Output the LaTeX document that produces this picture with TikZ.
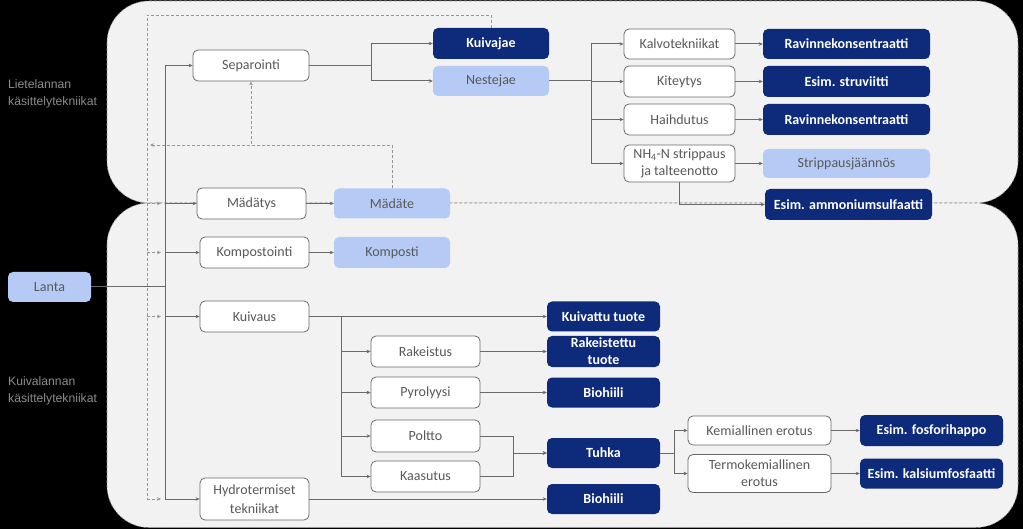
\documentclass[tikz,border=0pt]{standalone}
\usepackage{fontspec}
\setmainfont{Carlito}
\newfontfamily\sidefont{Liberation Sans}
\usetikzlibrary{arrows.meta}

\definecolor{panelgray}{RGB}{242,242,242}
\definecolor{navy}{RGB}{14,42,122}
\definecolor{lightblue}{RGB}{182,202,246}
\definecolor{txtgray}{RGB}{89,89,89}
\definecolor{linegray}{RGB}{105,105,105}
\definecolor{dashgray}{RGB}{150,150,150}
\definecolor{sidegray}{RGB}{140,140,140}

\tikzset{
	box/.style={rounded corners=5pt, inner sep=0pt, align=center, text=txtgray,
		font=\fontsize{14}{17}\selectfont},
	proc/.style={box, draw=linegray, line width=0.8pt, fill=white},
	res/.style={box, fill=navy, text=white, font=\fontsize{14}{17}\selectfont\bfseries},
	mid/.style={box, fill=lightblue},
	conn/.style={draw=linegray, line width=1pt},
	arr/.style={conn, -{Stealth[length=4pt,width=3.5pt]}},
	darr/.style={draw=dashgray, line width=0.8pt, dash pattern=on 3pt off 2pt,
		-{Stealth[length=4pt,width=3.5pt]}},
	dconn/.style={draw=dashgray, line width=0.8pt, dash pattern=on 3pt off 2pt},
	panel/.style={fill=panelgray, draw=dashgray, line width=0.6pt,
		dash pattern=on 3pt off 2pt, rounded corners=42pt},
	side/.style={anchor=west, align=left, text=sidegray, inner sep=0pt,
		font=\sidefont\fontsize{12.2}{17}\selectfont}
}

\begin{document}
\begin{tikzpicture}[x=1pt,y=-1pt]

	%Background
	\fill[black] (0,0) rectangle (1023,529);
	\useasboundingbox (0,0) rectangle (1023,529);

	%Panels
	\draw[panel] (107,1) rectangle (1018,203);
	\draw[panel] (107,203) rectangle (1018,527.5);
	\node[side] (liete) at (8,94) {Lietelannan\\käsittelytekniikat};
	\node[side] (kuiva) at (8,391) {Kuivalannan\\käsittelytekniikat};

	%Input
	\node[mid, minimum width=83pt, minimum height=30pt] (lanta) at (49.5,287) {Lanta};

	%Lietelanta
	\node[proc, minimum width=116pt, minimum height=31pt] (sep) at (251,65.5) {Separointi};
	\node[res, minimum width=116pt, minimum height=31pt] (kuivajae) at (491,43.5) {Kuivajae};
	\node[mid, minimum width=116pt, minimum height=30pt] (nestejae) at (491,81) {Nestejae};

	\node[proc, minimum width=111pt, minimum height=30pt] (kalvo) at (679.5,44) {Kalvotekniikat};
	\node[proc, minimum width=111pt, minimum height=31pt] (kite) at (679.5,81.5) {Kiteytys};
	\node[proc, minimum width=111pt, minimum height=31pt] (haih) at (679.5,119.5) {Haihdutus};
	\node[proc, minimum width=111pt, minimum height=37pt] (nh) at (679.5,163.5)
		{NH\textsubscript{4}-N strippaus\\ja talteenotto};

	\node[res, minimum width=167pt, minimum height=30pt] (rav1) at (846.5,44) {Ravinnekonsentraatti};
	\node[res, minimum width=167pt, minimum height=31pt] (struv) at (846.5,81.5) {Esim. struviitti};
	\node[res, minimum width=167pt, minimum height=31pt] (rav2) at (846.5,119.5) {Ravinnekonsentraatti};
	\node[mid, minimum width=167pt, minimum height=29pt] (stripj) at (846.5,163.5) {Strippausjäännös};
	\node[res, minimum width=167pt, minimum height=31pt] (amsulf) at (848.5,204.5) {Esim. ammoniumsulfaatti};

	%Mädätys ja kompostointi
	\node[proc, minimum width=109pt, minimum height=31pt] (mad) at (251.5,203.5) {Mädätys};
	\node[mid, minimum width=116pt, minimum height=30pt] (madate) at (392,203.5) {Mädäte};
	\node[proc, minimum width=109pt, minimum height=31pt] (komp) at (254.5,252.5) {Kompostointi};
	\node[mid, minimum width=116pt, minimum height=31pt] (kompo) at (392,252.5) {Komposti};

	%Kuivalanta
	\node[proc, minimum width=109pt, minimum height=31pt] (kuiv) at (254.5,316.5) {Kuivaus};
	\node[res, minimum width=113pt, minimum height=30pt] (kuivt) at (603.5,316.5) {Kuivattu tuote};
	\node[proc, minimum width=109pt, minimum height=31pt] (rak) at (425.5,351.5) {Rakeistus};
	\node[res, minimum width=113pt, minimum height=31pt] (rakt) at (603.5,351.5) {Rakeistettu\\tuote};
	\node[proc, minimum width=109pt, minimum height=31pt] (pyro) at (425.5,392.5) {Pyrolyysi};
	\node[res, minimum width=113pt, minimum height=30pt] (bio1) at (603.5,392.5) {Biohiili};
	\node[proc, minimum width=109pt, minimum height=32pt] (polt) at (425.5,436) {Poltto};
	\node[proc, minimum width=109pt, minimum height=31pt] (kaas) at (425.5,476.5) {Kaasutus};
	\node[res, minimum width=113pt, minimum height=30pt] (tuhka) at (603.5,453) {Tuhka};
	\node[proc, minimum width=109pt, minimum height=42pt] (hyd) at (254.5,499) {Hydrotermiset\\[2pt]tekniikat};
	\node[res, minimum width=113pt, minimum height=30pt] (bio2) at (603.5,499) {Biohiili};

	\node[proc, minimum width=143pt, minimum height=29pt] (kem) at (759.5,430.5) {Kemiallinen erotus};
	\node[proc, minimum width=143pt, minimum height=38pt] (termo) at (759.5,473.5) {Termokemiallinen\\erotus};
	\node[res, minimum width=143pt, minimum height=31pt] (fosf) at (931.5,430.5) {Esim. fosforihappo};
	\node[res, minimum width=143pt, minimum height=30pt] (kals) at (931.5,473.5) {Esim. kalsiumfosfaatti};

	%Solid connectors
	\coordinate (trunk) at (165,0);
	\draw[conn] (lanta.east) -- (lanta.east -| trunk);
	\draw[conn] (trunk |- sep) -- (trunk |- hyd);
	\foreach \n in {sep,mad,komp,kuiv,hyd}
		\draw[arr] (trunk |- \n) -- (\n.west);

	\draw[arr] (sep.east) -- ++(62,0) |- (kuivajae.west);
	\draw[arr] (sep.east) -- ++(62,0) |- (nestejae.west);

	\foreach \n in {kalvo,kite,haih,nh}
		\draw[arr] (nestejae.east) -- ++(42,0) |- (\n.west);
	\draw[arr] (kalvo) -- (rav1);
	\draw[arr] (kite) -- (struv);
	\draw[arr] (haih) -- (rav2);
	\draw[arr] (nh) -- (stripj);
	\draw[arr] (nh.south) |- (amsulf.west);

	\draw[arr] (mad) -- (madate);
	\draw[arr] (komp) -- (kompo);

	\draw[arr] (kuiv) -- (kuivt);
	\foreach \n in {rak,pyro,polt,kaas}
		\draw[arr] (kuiv.east) -- ++(32,0) |- (\n.west);
	\draw[arr] (rak) -- (rakt);
	\draw[arr] (pyro) -- (bio1);
	\draw[arr] (polt.east) -- ++(33,0) |- (tuhka.west);
	\draw[arr] (kaas.east) -- ++(33,0) |- (tuhka.west);
	\draw[arr] (tuhka.east) -- ++(14,0) |- (kem.west);
	\draw[arr] (tuhka.east) -- ++(14,0) |- (termo.west);
	\draw[arr] (kem) -- (fosf);
	\draw[arr] (termo) -- (kals);
	\draw[arr] (hyd) -- (bio2);

	%Dashed returns
	\coordinate (dtop) at (147,15);
	\coordinate (stub) at (161,0);
	\coordinate (dret) at (150,145);
	\draw[dconn] (kuivajae.north) |- (dtop) -- (dtop |- hyd);
	\foreach \n in {mad,komp,kuiv,hyd}
		\draw[darr] (dtop |- \n) -- (stub |- \n);
	\draw[darr] (madate.north) |- (dret);
	\draw[darr] (madate.north) |- (sep |- dret) -- (sep.south);

\end{tikzpicture}
\end{document}
